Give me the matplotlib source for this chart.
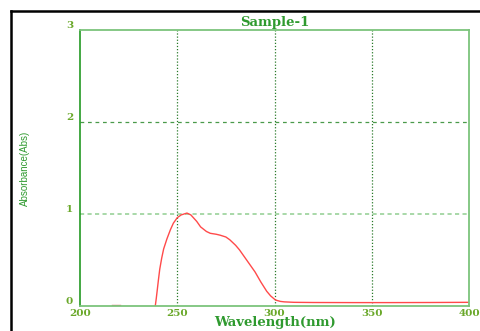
import matplotlib
matplotlib.use("Agg")
import matplotlib.pyplot as plt
from matplotlib.lines import Line2D

wavelength = [238.7, 239.2, 239.7, 240.3, 241, 242, 243, 244.7, 246.5, 248, 250, 252,
              255, 257, 260, 262, 265, 267, 270, 272, 275, 277, 280, 282, 285, 288,
              290, 293, 296, 298, 300.5, 303, 305, 310, 320, 340, 360, 380, 400]
absorbance = [0.0, 0.08, 0.17, 0.28, 0.40, 0.52, 0.62, 0.73, 0.83, 0.9, 0.96, 0.99,
              1.01, 0.99, 0.92, 0.86, 0.81, 0.79, 0.78, 0.77, 0.75, 0.72, 0.66, 0.61,
              0.52, 0.43, 0.37, 0.26, 0.16, 0.11, 0.065, 0.05, 0.045, 0.04, 0.038,
              0.037, 0.037, 0.038, 0.04]
blip_x = [216.5, 220.5]
blip_y = [0.01, 0.01]

x_ticks = [200, 250, 300, 350, 400]
y_ticks = [0, 1, 2, 3]
title = "Sample-1"
xlabel = "Wavelength(nm)"
ylabel = "Absorbance(Abs)"

green = "#2f9a2f"
light = "#7cc47c"
serif = ["DejaVu Serif"]

fig = plt.figure(figsize=(4.8, 3.31), dpi=100)
fig.patch.set_facecolor("white")
ax = fig.add_axes([80/480, 1-306/331, 389/480, 276/331])

ax.plot(wavelength, absorbance, color="#ff4a4a", lw=1.0)
ax.plot(blip_x, blip_y, color="#e07070", lw=1.0)

ax.set_xlim(200, 400)
ax.set_ylim(0, 3)

for xv in x_ticks[1:-1]:
    ax.axvline(xv, color="#2a7a2a", lw=0.9, ls=(0, (1, 1.5)), zorder=0)
ax.axhline(2, color="#4a9a4a", lw=0.9, ls=(0, (3, 3)), zorder=0)
ax.axhline(1, color="#9ad29a", lw=1.2, ls=(0, (2.5, 2)), zorder=0)

for s in ["top", "right", "bottom"]:
    ax.spines[s].set_color(light)
    ax.spines[s].set_linewidth(1.3)
ax.spines["left"].set_color("#229922")
ax.spines["left"].set_linewidth(1.2)

ax.set_xticks(x_ticks)
ax.set_xticklabels([str(v) for v in x_ticks])
ax.set_yticks(y_ticks)
ax.set_yticklabels([str(v) for v in y_ticks])
ax.tick_params(length=0, colors=green)
ax.tick_params(axis="x", pad=2)
ax.tick_params(axis="y", pad=5)
for lab in ax.get_xticklabels() + ax.get_yticklabels():
    lab.set_family(serif)
    lab.set_fontsize(7.5)
    lab.set_fontweight("bold")
    lab.set_color("#6aa82a")
for lab in ax.get_yticklabels():
    lab.set_verticalalignment("bottom")

ax.set_title(title, color=green, fontsize=9.5, fontweight="bold", family=serif, pad=3)
ax.set_xlabel(xlabel, color=green, fontsize=9.5, fontweight="bold", family=serif, labelpad=-1)
ax.set_ylabel(ylabel, color=green, fontsize=7, family=["Liberation Sans"])
ax.yaxis.set_label_coords(-0.128, 0.5)

# black frame lines at top and left
fig.add_artist(Line2D([11/480, 1.0], [1-11/331, 1-11/331], color="black", lw=1.8, transform=fig.transFigure))
fig.add_artist(Line2D([11/480, 11/480], [0, 1-11/331], color="black", lw=1.8, transform=fig.transFigure))

fig.savefig("out.png", dpi=100)
